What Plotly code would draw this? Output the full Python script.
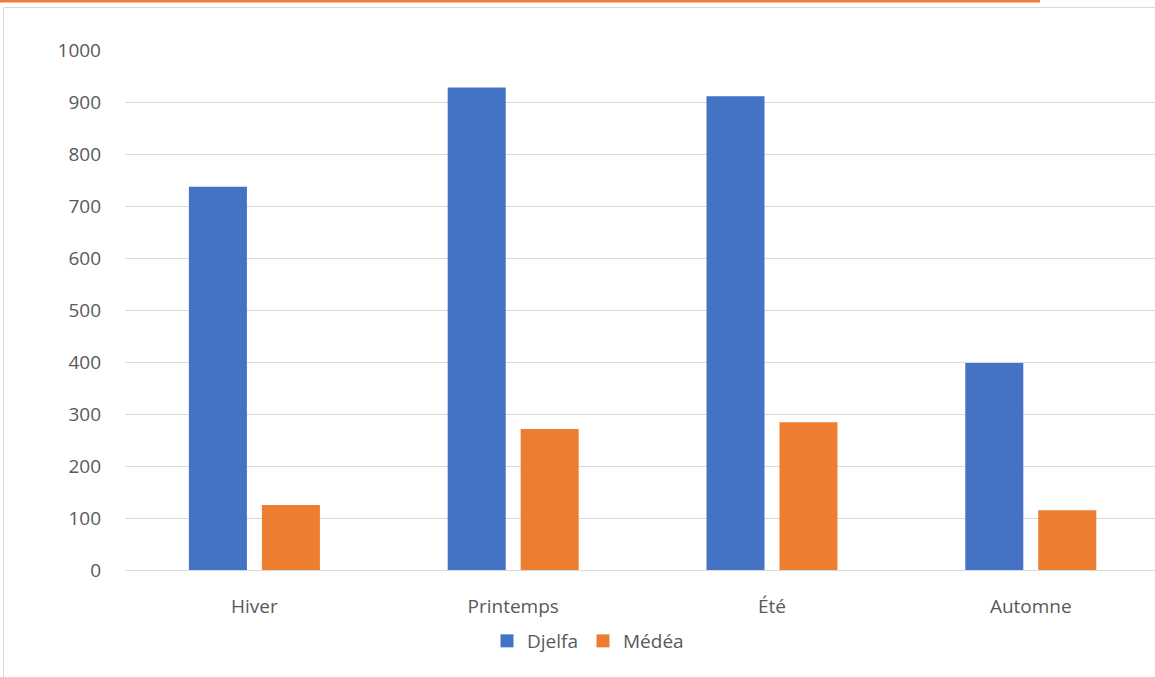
import plotly.graph_objects as go

categories = ["Hiver", "Printemps", "Été", "Automne"]
djelfa = [737, 928, 911, 398]
medea = [125, 271, 284, 115]
y_ticks = [0, 100, 200, 300, 400, 500, 600, 700, 800, 900, 1000]

W, H = 1155, 677
L, T, R_PX, B_PX = 125, 50, 1155, 570  # plot area in pixels

def px_x(px):
    return (px - L) / (R_PX - L)

def px_y(py):
    return (B_PX - py) / (B_PX - T)

font_col = "#595959"
fnt = "Open Sans"
FS = 19
colors = {"Djelfa": "#4472C4", "Médéa": "#ED7D31"}

fig = go.Figure()
fig.add_trace(go.Bar(name="Djelfa", x=categories, y=djelfa, marker_color=colors["Djelfa"],
                     marker_line_width=0, showlegend=False))
fig.add_trace(go.Bar(name="Médéa", x=categories, y=medea, marker_color=colors["Médéa"],
                     marker_line_width=0, showlegend=False))
# legend entries with larger square symbols
for name in ["Djelfa", "Médéa"]:
    fig.add_trace(go.Scatter(name=name, x=[None], y=[None], mode="markers",
                             marker=dict(symbol="square", size=13, color=colors[name]),
                             showlegend=True))

fig.update_layout(
    width=W, height=H,
    margin=dict(l=L, r=W - R_PX, t=T, b=H - B_PX),
    paper_bgcolor="white", plot_bgcolor="white",
    barmode="group", bargap=0.436, bargroupgap=0.205,
    font=dict(family=fnt, size=FS, color=font_col),
    showlegend=True,
    legend=dict(orientation="h", x=px_x(588), xanchor="center", y=px_y(641), yanchor="middle",
                font=dict(family=fnt, size=FS, color=font_col), itemwidth=30,
                tracegroupgap=0, bgcolor="rgba(0,0,0,0)"),
    xaxis=dict(range=[-0.5, 3.48], showgrid=False, showline=True, linecolor="#d9d9d9",
               linewidth=1.3, ticks="", ticklabelstandoff=19, tickfont=dict(size=FS, color=font_col)),
    yaxis=dict(range=[0, 1000], tickvals=y_ticks, showgrid=True, gridcolor="#d9d9d9", gridwidth=1.3,
               zeroline=False, showline=False, ticks="", ticklabelstandoff=23,
               tickfont=dict(size=FS, color=font_col)),
    shapes=[
        dict(type="rect", xref="paper", yref="paper", x0=px_x(0), x1=px_x(1040),
             y0=px_y(0), y1=px_y(2.5), fillcolor="#ED7D31", line=dict(width=0), layer="above"),
        dict(type="rect", xref="paper", yref="paper", x0=px_x(3.5), x1=px_x(1170),
             y0=px_y(7.5), y1=px_y(700), fillcolor="rgba(0,0,0,0)",
             line=dict(color="#d9d9d9", width=1), layer="below"),
    ],
)

fig.write_html("out.html")
